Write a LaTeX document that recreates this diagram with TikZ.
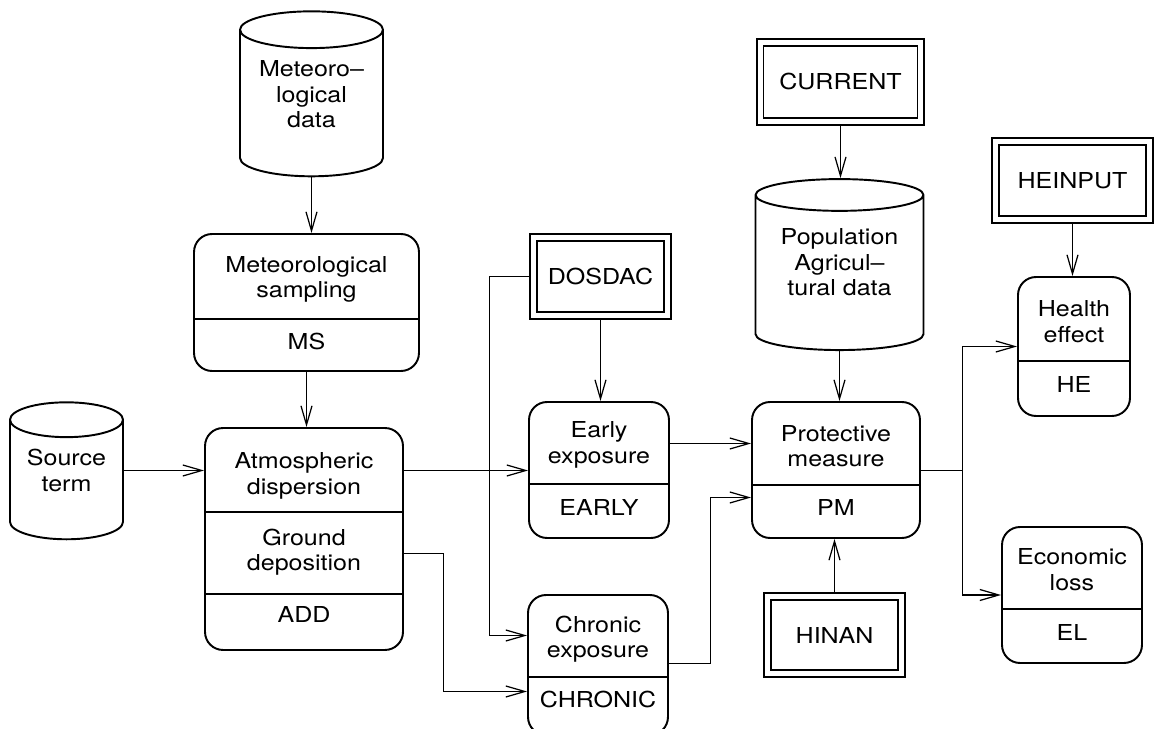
\documentclass[tikz,border=0pt]{standalone}
\usepackage{fontspec}
\setmainfont{TeX Gyre Heros}[FakeStretch=1.14]
\usetikzlibrary{arrows.meta}
\usetikzlibrary{shapes.geometric}

\begin{document}
\begin{tikzpicture}[x=0.02cm,y=-0.02cm,
		every node/.style={font=\fontsize{12.5}{14.5}\selectfont,align=center,inner sep=0pt},
		module/.style={draw,line width=1.1pt,rounded corners=0.36cm},
		sepline/.style={line width=1.1pt},
		datafile/.style={draw,line width=0.9pt,double,double distance=0.1cm,outer sep=0.07cm},
		store/.style={draw,line width=1.1pt,cylinder,shape border rotate=90},
		flow/.style={line width=0.7pt,-{Straight Barb[length=0.38cm,width=0.22cm]}}]
	\useasboundingbox (0,0) rectangle (1154,729);
	\clip (0,0) rectangle (1154,729);

	\node[store,minimum width=2.86cm,minimum height=3.3cm,aspect=0.35,text depth=0.38cm] (met) at (311.5,103.5) {Meteoro–\\logical\\data};
	\node[store,minimum width=2.26cm,minimum height=2.74cm,aspect=0.44,text depth=0.38cm] (src) at (66.5,480) {Source\\term};
	\node[store,minimum width=3.36cm,minimum height=3.42cm,aspect=0.27,text depth=0.44cm] (pop) at (839.5,273) {Population\\Agricul–\\tural data};

	\node[module,minimum width=4.5cm,minimum height=2.74cm] (ms) at (306.5,302.5) {};
	\draw[sepline] (ms.west |- 0,319) -- (ms.east |- 0,319);
	\node (mstitle) at (306.5,279.5) {Meteorological\\sampling};
	\node (mscode) at (306.5,341) {MS};

	\node[module,minimum width=3.96cm,minimum height=4.44cm] (add) at (304,539) {};
	\draw[sepline] (add.west |- 0,512) -- (add.east |- 0,512);
	\draw[sepline] (add.west |- 0,594) -- (add.east |- 0,594);
	\node (adddisp) at (304,476) {Atmospheric\\dispersion};
	\node (adddep) at (304,552) {Ground\\deposition};
	\node (addcode) at (304,614) {ADD};

	\node[module,minimum width=2.8cm,minimum height=2.72cm] (early) at (599,470) {};
	\draw[sepline] (early.west |- 0,484) -- (early.east |- 0,484);
	\node (earlytitle) at (599,445) {Early\\exposure};
	\node (earlycode) at (599,507) {EARLY};

	\node[module,minimum width=2.8cm,minimum height=2.8cm] (chronic) at (598,665) {};
	\draw[sepline] (chronic.west |- 0,677) -- (chronic.east |- 0,677);
	\node (chronictitle) at (598,639) {Chronic\\exposure};
	\node (chroniccode) at (598,699) {CHRONIC};

	\node[module,minimum width=3.36cm,minimum height=2.72cm] (pm) at (836,470) {};
	\draw[sepline] (pm.west |- 0,485) -- (pm.east |- 0,485);
	\node (pmtitle) at (836,446) {Protective\\measure};
	\node (pmcode) at (836,507) {PM};

	\node[module,minimum width=2.24cm,minimum height=2.78cm] (he) at (1074,346.5) {};
	\draw[sepline] (he.west |- 0,361) -- (he.east |- 0,361);
	\node (hetitle) at (1074,321.5) {Health\\effect};
	\node (hecode) at (1074,384) {HE};

	\node[module,minimum width=2.8cm,minimum height=2.72cm] (el) at (1072,595) {};
	\draw[sepline] (el.west |- 0,609) -- (el.east |- 0,609);
	\node (eltitle) at (1072,569.5) {Economic\\loss};
	\node (elcode) at (1072,632) {EL};

	\node[datafile,minimum width=3.22cm,minimum height=1.58cm] (current) at (840.5,82) {CURRENT};
	\node[datafile,minimum width=3.08cm,minimum height=1.56cm] (heinput) at (1072.5,180.5) {HEINPUT};
	\node[datafile,minimum width=2.68cm,minimum height=1.56cm] (dosdac) at (600.5,276.5) {DOSDAC};
	\node[datafile,minimum width=2.68cm,minimum height=1.54cm] (hinan) at (834.5,635) {HINAN};

	\draw[flow] (met.south) -- (met.south |- ms.north);
	\draw[flow] (ms.south) -- (ms.south |- add.north);
	\draw[flow] (src.east |- 0,470.5) -- (add.west |- 0,470.5);
	\draw[flow] (add.east |- 0,470.5) -- (early.west |- 0,470.5);
	\draw[flow] (dosdac.south) -- (dosdac.south |- early.north);
	\draw[flow] (dosdac.west) -| (489.5,635.5) -- (chronic.west |- 0,635.5);
	\draw[flow] (add.east |- 0,553.5) -| (443.5,691.5) -- (chronic.west |- 0,691.5);
	\draw[flow] (early.east |- 0,443.5) -- (pm.west |- 0,443.5);
	\draw[flow] (chronic.east |- 0,663.5) -| (710.5,497.5) -- (pm.west |- 0,497.5);
	\draw[flow] (current.south) -- (current.south |- pop.north);
	\draw[flow] (pop.south) -- (pop.south |- pm.north);
	\draw[flow] (hinan.north) -- (hinan.north |- pm.south);
	\draw[flow] (heinput.south) -- (heinput.south |- he.north);
	\coordinate (fork) at (962.5,470.5);
	\draw[line width=0.7pt] (pm.east |- fork) -- (fork);
	\draw[flow] (fork) |- (he.west);
	\draw[flow] (fork) |- (el.west);
\end{tikzpicture}
\end{document}
